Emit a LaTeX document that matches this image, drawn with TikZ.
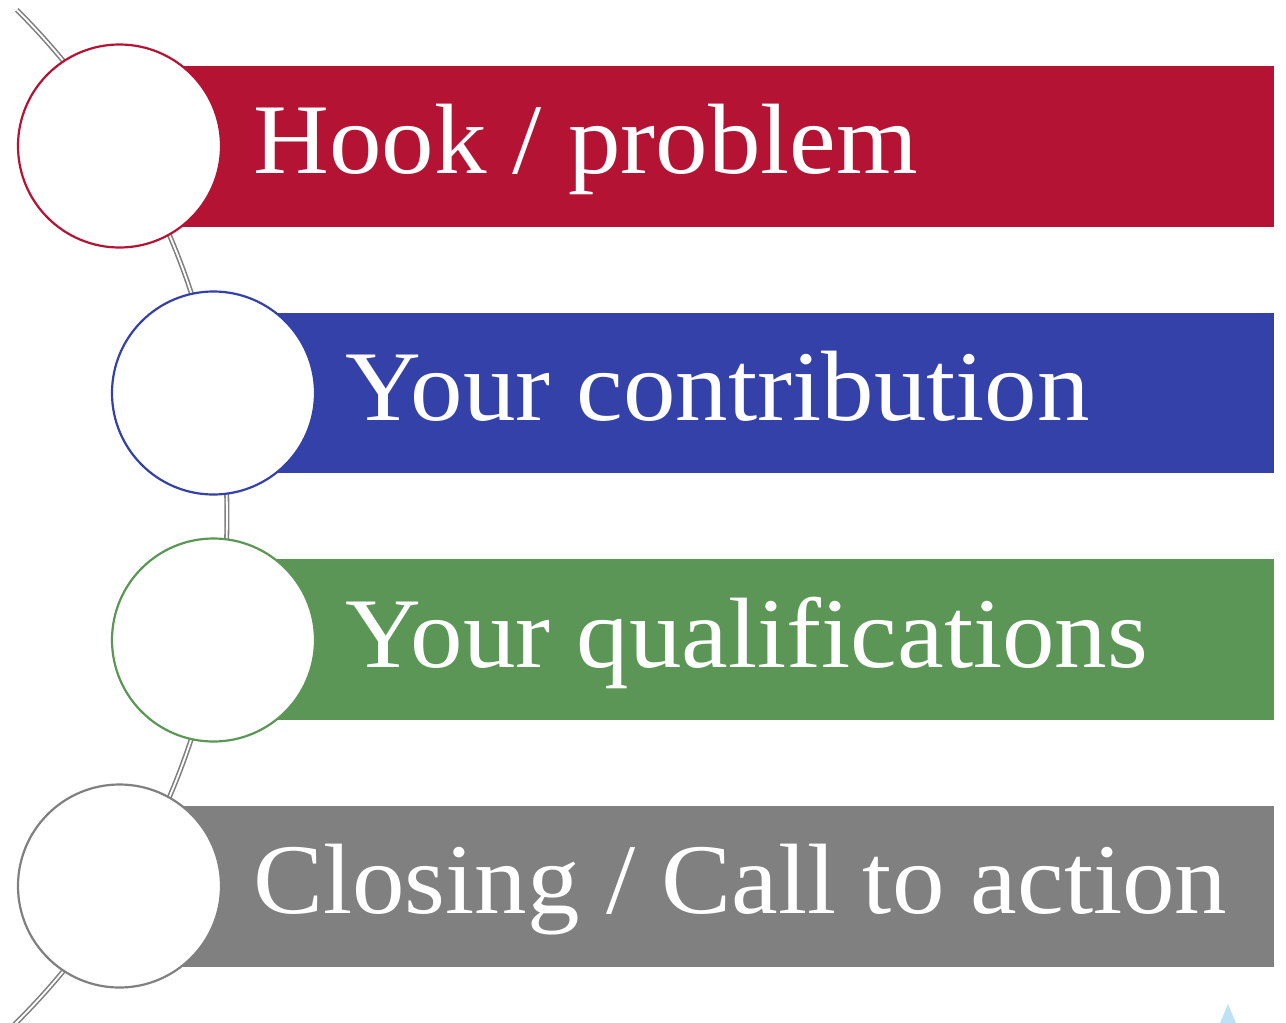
\documentclass[tikz,border=0pt]{standalone}
\usepackage{fontspec}
\setmainfont{Liberation Serif}[FakeStretch=1.05]
\definecolor{cred}{RGB}{181,19,52}
\definecolor{cblue}{RGB}{51,65,168}
\definecolor{cgreen}{RGB}{91,150,86}
\definecolor{cgray}{RGB}{128,128,128}
\definecolor{clight}{RGB}{190,225,245}
\tikzset{
  bar/.style={fill=#1, draw=none},
  ring/.style={circle, draw=#1, line width=2.2pt, fill=white, minimum size=203pt, inner sep=0pt},
  label/.style={anchor=base west, text=white, font=\fontsize{100}{100}\selectfont, inner sep=0pt},
  spine/.style={draw=cgray, line width=1.6pt, double=white, double distance=1.8pt}
}
\begin{document}
\begin{tikzpicture}[x=1pt,y=-1pt]
\useasboundingbox (0,0) rectangle (1286,1023);
\clip (0,0) rectangle (1286,1023);
\fill[white] (0,0) rectangle (1286,1023);
% spine arc
\draw[spine] (-487.6,516) ++(-45.1:714.6) arc[start angle=-45.1, end angle=47, radius=714.6];
% bars
\path[bar=cred]   (120,66)  rectangle (1274,227);
\path[bar=cblue]  (213,313) rectangle (1274,473);
\path[bar=cgreen] (213,559) rectangle (1274,720);
\path[bar=cgray]  (120,806) rectangle (1274,967);
% circles
\node[ring=cred]   (c1) at (119.5,146) {};
\node[ring=cblue]  (c2) at (213.5,393) {};
\node[ring=cgreen] (c3) at (213.5,640) {};
\node[ring=cgray]  (c4) at (119.5,886) {};
% labels
\node[label] (t1) at (253,173) {Hook / problem};
\node[label] (t2) at (345,420) {Your contribution};
\node[label] (t3) at (345,667) {Your qualifications};
\node[label] (t4) at (253,913) {Closing / Call to action};
% small mark
\fill[clight] (1228,1004) -- (1236,1023) -- (1220,1023) -- cycle;
\end{tikzpicture}
\end{document}
